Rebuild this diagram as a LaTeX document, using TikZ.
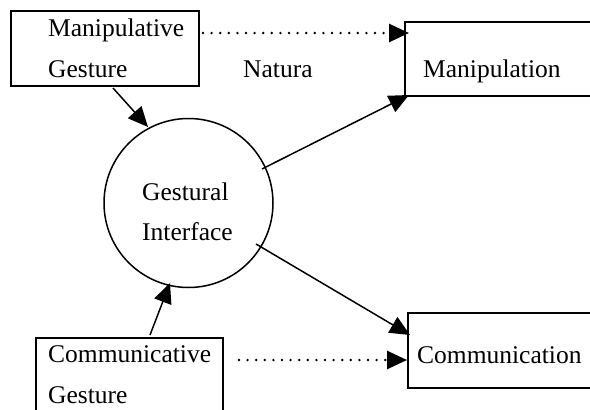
\documentclass[tikz,border=0pt]{standalone}
\usepackage{fontspec}
\setmainfont{Liberation Serif}
\usetikzlibrary{arrows.meta}
\begin{document}
\begin{tikzpicture}[x=1pt,y=-1pt,
  font=\fontsize{25.5}{30}\selectfont,
  box/.style={draw,line width=1.7pt,rectangle,inner sep=0pt},
  lbl/.style={anchor=base west,inner sep=0pt},
  tip/.style={-{Triangle[length=20pt,width=18pt]}},
  solidarrow/.style={tip,line width=1.5pt},
  dotarrow/.style={tip,line width=2.7pt,line cap=round,dash pattern=on 0pt off 8.6pt}]
\useasboundingbox (0,0) rectangle (590,410);
\clip (0,0) rectangle (590,410);
\fill[white] (0,0) rectangle (590,410);

% boxes (the right-hand ones and the lower-left one run past the page edge)
\node[box,anchor=north west,minimum width=188pt,minimum height=75pt] (mg) at (10,10) {};
\node[box,anchor=north west,minimum width=200pt,minimum height=74pt] (mp) at (404,21) {};
\node[box,anchor=north west,minimum width=187pt,minimum height=90pt] (cg) at (35,337) {};
\node[box,anchor=north west,minimum width=200pt,minimum height=75pt] (cm) at (407,312) {};
\node[draw,circle,line width=1.5pt,minimum size=169pt,inner sep=0pt] (gi) at (188.5,203) {};

% texts
\node[lbl] (t1) at (48,36) {Manipulative};
\node[lbl] (t2) at (48,77) {Gesture};
\node[lbl] (t3) at (243,77) {Natura};
\node[lbl] (t4) at (423,77) {Manipulation};
\node[lbl] (t5) at (142,200) {Gestural};
\node[lbl] (t6) at (142,240) {Interface};
\node[lbl] (t7) at (48,362) {Communicative};
\node[lbl] (t8) at (48,403) {Gesture};
\node[lbl] (t9) at (417,363) {Communication};

% connector end points
\coordinate (mgout) at (113,88);
\coordinate (giin1) at (148,127);
\coordinate (giout1) at (262,169);
\coordinate (mpin1) at (409,95);
\coordinate (giout2) at (256,244);
\coordinate (cmin1) at (410,335);
\coordinate (cgout) at (150,335);
\coordinate (giin2) at (170,283);
\coordinate (mgdot) at (203,33);
\coordinate (mpdot) at (409,33);
\coordinate (cgdot) at (239,360);
\coordinate (cmdot) at (407,360);

% connectors
\draw[solidarrow] (mgout) -- (giin1);
\draw[solidarrow] (giout1) -- (mpin1);
\draw[solidarrow] (giout2) -- (cmin1);
\draw[solidarrow] (cgout) -- (giin2);
\draw[dotarrow] (mgdot) -- (mpdot);
\draw[dotarrow] (cgdot) -- (cmdot);
\end{tikzpicture}
\end{document}
